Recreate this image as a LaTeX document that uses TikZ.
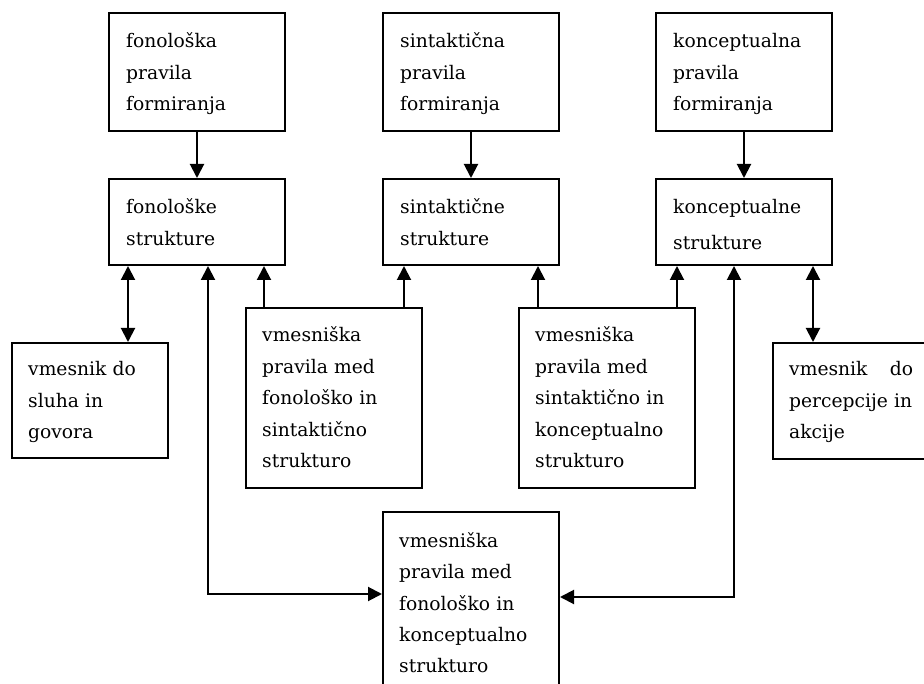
\documentclass[tikz,border=0pt]{standalone}
\usepackage{fontspec}
\setmainfont{DejaVu Serif}
\usetikzlibrary{arrows.meta}
\begin{document}
\begin{tikzpicture}[x=1pt,y=-1pt,
  box/.style={draw, line width=2pt, inner sep=0pt, anchor=north west, minimum width=176pt},
  txt/.style={anchor=base west, inner sep=0pt, align=left, text width=150pt,
    font=\fontsize{18.7}{31.5}\selectfont},
  arr/.style={line width=2pt},
  >={Triangle[width=14pt,length=14pt]}]
\useasboundingbox (0,0) rectangle (924,684);
% boxes
\node[box, minimum height=118pt] (a1) at (108,12) {};
\node[box, minimum height=118pt] (a2) at (382,12) {};
\node[box, minimum height=118pt] (a3) at (655,12) {};
\node[box, minimum height=86pt] (b1) at (108,178) {};
\node[box, minimum height=86pt] (b2) at (382,178) {};
\node[box, minimum height=86pt] (b3) at (655,178) {};
\node[box, minimum width=156pt, minimum height=115pt] (l) at (11,342) {};
\node[box, minimum height=180pt] (c1) at (245,307) {};
\node[box, minimum height=180pt] (c2) at (518,307) {};
\node[box, minimum width=170pt, minimum height=116pt] (r) at (772,342) {};
\node[box, minimum height=200pt] (d) at (382,511) {};
% texts
\node[txt] (ta1) at ([shift={(18,36)}]a1.north west) {fonološka\\pravila\\formiranja};
\node[txt] (ta2) at ([shift={(18,36)}]a2.north west) {sintaktična\\pravila\\formiranja};
\node[txt] (ta3) at ([shift={(18,36)}]a3.north west) {konceptualna\\pravila\\formiranja};
\node[txt] (tb1) at ([shift={(18,36)}]b1.north west) {fonološke\\strukture};
\node[txt] (tb2) at ([shift={(18,36)}]b2.north west) {sintaktične\\strukture};
\node[txt, font=\fontsize{18.7}{36}\selectfont] (tb3) at ([shift={(18,36)}]b3.north west) {konceptualne\\strukture};
\node[txt] (tl) at ([shift={(17,34)}]l.north west) {vmesnik do\\sluha in\\govora};
\node[txt] (tc1) at ([shift={(17,35)}]c1.north west) {vmesniška\\pravila med\\fonološko in\\sintaktično\\strukturo};
\node[txt] (tc2) at ([shift={(17,35)}]c2.north west) {vmesniška\\pravila med\\sintaktično in\\konceptualno\\strukturo};
\node[txt, text width=124pt] (tr) at ([shift={(17,34)}]r.north west) {vmesnik\hfill do\\percepcije in\\akcije};
\node[txt] (td) at ([shift={(17,36)}]d.north west) {vmesniška\\pravila med\\fonološko in\\konceptualno\\strukturo};
% connectors
\draw[arr,->] (a1) -- (b1);
\draw[arr,->] (a2) -- (b2);
\draw[arr,->] (a3) -- (b3);
\draw[arr,<->] ([xshift=20pt]b1.south west) -- ([xshift=20pt]b1.south west |- l.north);
\draw[arr,->] ([xshift=19pt]c1.north west) -- ([xshift=19pt]c1.north west |- b1.south);
\draw[arr,->] ([xshift=-19pt]c1.north east) -- ([xshift=-19pt]c1.north east |- b2.south);
\draw[arr,->] ([xshift=20pt]c2.north west) -- ([xshift=20pt]c2.north west |- b2.south);
\draw[arr,->] ([xshift=-19pt]c2.north east) -- ([xshift=-19pt]c2.north east |- b3.south);
\draw[arr,<->] ([xshift=-20pt]b3.south east) -- ([xshift=-20pt]b3.south east |- r.north);
\draw[arr,<->] ([xshift=-78pt]b1.south east) |- ([yshift=18pt]d.west);
\draw[arr,<->] ([xshift=79pt]b3.south west) |- ([yshift=15pt]d.east);
\end{tikzpicture}
\end{document}
